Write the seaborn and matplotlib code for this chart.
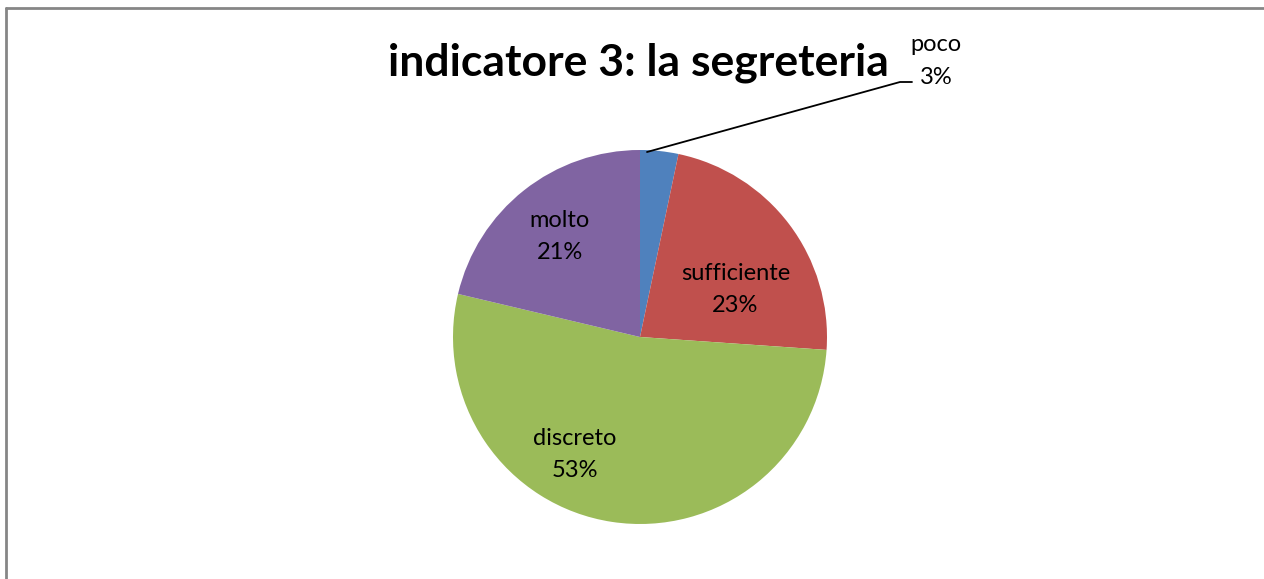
import numpy as np
import matplotlib.pyplot as plt
import seaborn as sns
from matplotlib.lines import Line2D

# data (shares)
categories = ["poco", "sufficiente", "discreto", "molto"]
values = [3.3, 22.8, 52.6, 21.3]
colors = ["#4F81BD", "#C0504D", "#9BBB59", "#8064A2"]
title = "indicatore 3: la segreteria"

sns.set_theme(style="white")
plt.rcParams["font.family"] = ["Lato", "DejaVu Sans"]

W, H = 1264, 579
fig = plt.figure(figsize=(W / 100, H / 100), dpi=100)

# pie centre (640, 337) px, radius 187 px
cx, cy, r = 640, 337, 187
ax = fig.add_axes([(cx - r) / W, (H - cy - r) / H, 2 * r / W, 2 * r / H])
wedges, _ = ax.pie(values, colors=colors, startangle=90, counterclock=False,
                   radius=1, wedgeprops=dict(linewidth=0))
ax.set_xlim(-1, 1)
ax.set_ylim(-1, 1)
ax.set_aspect("equal")
ax.axis("off")

pct = [f"{round(v)}%" for v in values]

# inside labels (positions in pie units)
inside_pos = {1: (0.51, 0.255), 2: (-0.35, -0.63), 3: (-0.43, 0.535)}
for i, (x, y) in inside_pos.items():
    ax.text(x, y, f"{categories[i]}\n{pct[i]}", ha="center", va="center",
            fontsize=17, color="black", linespacing=1.65)

# outside label for the small slice with leader line
def px(x, y):
    return ((x - cx) / r, (cy - y) / r)

x0, y0 = px(647, 152)
x1, y1 = px(900, 82)
x2, y2 = px(912, 82)
ax.plot([x0, x1, x2], [y0, y1, y2], color="black", lw=1.3, clip_on=False)
tx, ty = px(936, 61)
ax.text(tx, ty, f"{categories[0]}\n{pct[0]}", ha="center", va="center",
        fontsize=17, color="black", linespacing=1.65)

fig.text(638 / W, 1 - 63 / H, title, ha="center", va="center",
         fontsize=32, fontweight="bold", color="black")

# chart frame (only top and left edges visible)
fig.add_artist(Line2D([6 / W, 1], [1 - 7.5 / H, 1 - 7.5 / H], transform=fig.transFigure,
                      color="#868686", lw=2))
fig.add_artist(Line2D([6 / W, 6 / W], [0, 1 - 7.5 / H], transform=fig.transFigure,
                      color="#868686", lw=2))

fig.savefig("out.png", dpi=100)
